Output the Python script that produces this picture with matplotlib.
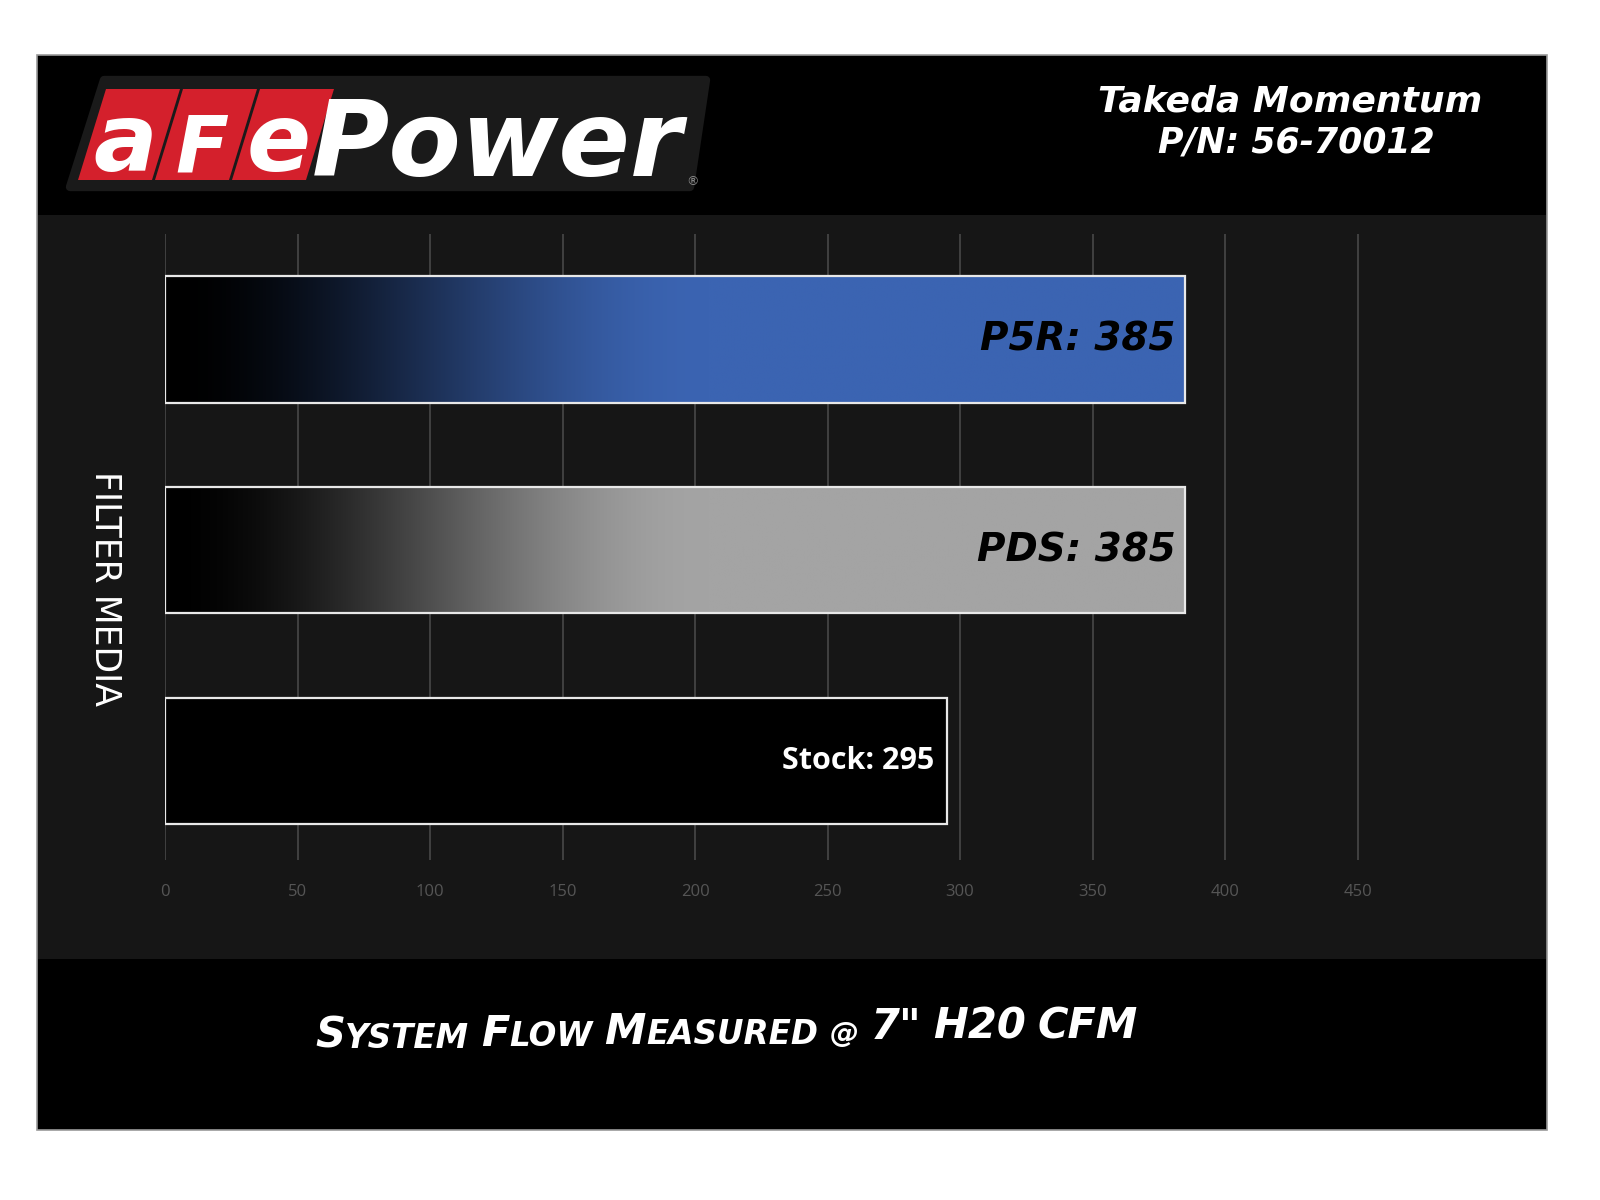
import numpy as np
import matplotlib.pyplot as plt
from matplotlib.patches import Rectangle, Polygon
from matplotlib.colors import to_rgb

# data
categories = ["Stock", "PDS", "P5R"]
flow_cfm = [295, 385, 385]
bar_labels = ["Stock: 295", "PDS: 385", "P5R: 385"]
bar_colors = ["#000000", "#a4a4a4", "#3b64b2"]
label_colors = ["white", "black", "black"]
x_ticks = [0, 50, 100, 150, 200, 250, 300, 350, 400, 450]
header_lines = ["Takeda Momentum", "P/N: 56-70012"]
y_title = "FILTER MEDIA"
# small-caps style title: (text, size, gap before in pt)
title_parts = [("S", 30, 0), ("YSTEM", 23.5, 0), ("F", 30, 8.5), ("LOW", 23.5, 0),
               ("M", 30, 8.5), ("EASURED", 23.5, 0), ("@", 21, 8.5), ('7"', 30, 8.5),
               ("H20", 30, 8.5), ("CFM", 30, 8.5)]

W, H = 1600, 1200
fig = plt.figure(figsize=(16, 12), dpi=100)
fig.patch.set_facecolor("white")

# 1) background in pixel coordinates
bg = fig.add_axes([0, 0, 1, 1])
bg.set_xlim(0, W)
bg.set_ylim(H, 0)
bg.axis("off")
bg.add_patch(Rectangle((37, 55), 1510, 1075, facecolor="black", edgecolor="#9a9a9a", lw=1.2))
bg.add_patch(Rectangle((38, 215), 1508, 744, facecolor="#161616", lw=0))

# logo
slant = 28
def para(x, top, bot, w):
    return [(x, bot), (x + w, bot), (x + w + slant, top), (x + slant, top)]

bg.add_patch(Polygon([(70, 187), (690, 187), (706, 80), (104, 80)], closed=True,
                     facecolor="#1a1a1a", edgecolor="#1a1a1a", lw=6, joinstyle="round"))
for i, ch in enumerate(["a", "F", "e"]):
    x0 = 78 + i * 77
    bg.add_patch(Polygon(para(x0, 89, 180, 74), closed=True, facecolor="#d4202c", lw=0))
    bg.text(x0 + 37 + slant / 2 - 4, 171, ch, color="white", fontsize=68 if ch != "F" else 56,
            weight="bold", style="italic", ha="center", va="baseline")
bg.text(312, 176, "Power", color="white", fontsize=76, weight="bold", style="italic",
        ha="left", va="baseline")
bg.text(692, 182, "®", color="#888888", fontsize=9, ha="center", va="center")

# header text
bg.text(1290, 102, header_lines[0], color="white", fontsize=26, weight="bold", style="italic",
        ha="center", va="center")
bg.text(1296, 143, header_lines[1], color="white", fontsize=25, weight="bold", style="italic",
        ha="center", va="center")

# bottom title, pieces chained one after another
prev = None
for txt, size, gap in title_parts:
    kw = dict(color="white", fontsize=size, weight="bold", style="italic", ha="left", va="bottom")
    if prev is None:
        prev = bg.text(315, 1057, txt, **kw)
    else:
        dy = (30 - size) * 0.236
        prev = bg.annotate(txt, xy=(1, 0), xycoords=prev, xytext=(gap, dy),
                           textcoords="offset points", **kw)

# 2) chart
ax = fig.add_axes([165 / W, 1 - 860 / H, 1378 / W, 626 / H])
ax.set_facecolor("none")
ypos = np.arange(len(categories))
bars = ax.barh(ypos, flow_cfm, height=0.6, color=bar_colors, lw=0, zorder=2)

for bar, col in zip(bars, bar_colors):
    if col == "#000000":
        continue
    x0, y0, w, h = bar.get_x(), bar.get_y(), bar.get_width(), bar.get_height()
    xs = np.linspace(x0, x0 + w, 500)
    t = np.clip(xs / 205.0, 0, 1)
    ramp = t * t * (3 - 2 * t)
    img = ramp[None, :, None] * np.array(to_rgb(col))[None, None, :]
    ax.imshow(img, extent=[x0, x0 + w, y0, y0 + h], aspect="auto", zorder=2.2,
              interpolation="bilinear")

ax.barh(ypos, flow_cfm, height=0.6, facecolor="none", edgecolor="#e8e8e8", lw=1.6, zorder=3)

for i, (v, lab) in enumerate(zip(flow_cfm, bar_labels)):
    if i == 0:
        ax.annotate(lab, xy=(v, i), xytext=(-9, 0), textcoords="offset points", ha="right",
                    va="center", color=label_colors[i], fontsize=22, family="Open Sans",
                    weight="bold", zorder=4)
    else:
        ax.annotate(lab, xy=(v, i), xytext=(-7, 0), textcoords="offset points", ha="right",
                    va="center", color=label_colors[i], fontsize=28, weight="bold",
                    style="italic", zorder=4)

ax.set_xlim(0, 520)
ax.set_ylim(-0.47, 2.5)
ax.set_xticks(x_ticks)
ax.set_xticklabels([str(t) for t in x_ticks], family="Open Sans")
ax.set_yticks([])
ax.grid(axis="x", color="#484848", lw=1.2)
ax.set_axisbelow(True)
ax.tick_params(axis="x", length=0, pad=17, labelcolor="#555555", labelsize=12)
for s in ax.spines.values():
    s.set_visible(False)
ax.set_ylabel(y_title, rotation=-90, color="white", fontsize=25, va="center", ha="center")
ax.yaxis.set_label_coords(-0.0435, 0.433)

fig.savefig("out.png", dpi=100, facecolor=fig.get_facecolor())
